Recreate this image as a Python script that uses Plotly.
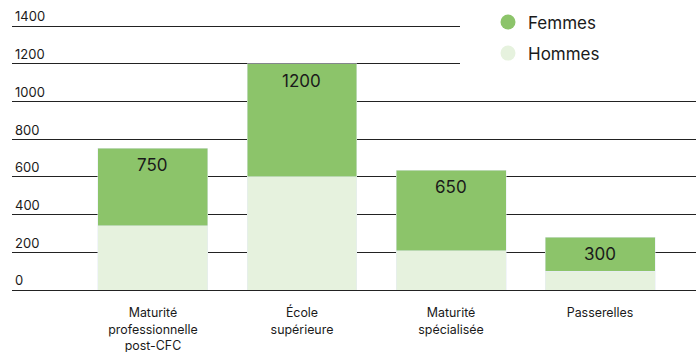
import plotly.graph_objects as go

categories = ["Maturité<br>professionnelle<br>post-CFC", "École<br>supérieure", "Maturité<br>spécialisée", "Passerelles"]
hommes = [340, 600, 208, 100]
femmes = [413, 600, 428, 181]
total_labels = ["750", "1200", "650", "300"]
y_ticks = [0, 200, 400, 600, 800, 1000, 1200, 1400]

c_f = "#8CC46A"
c_h = "#E6F2DE"
FONT = "Inter"
txt = "#1a1a1a"

fig = go.Figure()
fig.add_bar(x=categories, y=hommes, marker_color=c_h, width=0.738, showlegend=False, name="Hommes")
fig.add_bar(x=categories, y=femmes, marker_color=c_f, width=0.738, showlegend=False, name="Femmes")
fig.add_scatter(x=[None], y=[None], mode="markers", name="Femmes", legendgroup="f",
                marker=dict(symbol="circle", size=15, color=c_f))
fig.add_scatter(x=[None], y=[None], mode="markers", name="Hommes", legendgroup="h",
                marker=dict(symbol="circle", size=15, color=c_h))

for c, h, f, lab in zip(categories, hommes, femmes, total_labels):
    fig.add_annotation(x=c, y=h + f, text=lab, showarrow=False, yanchor="middle",
                       yshift=-17, font=dict(family=FONT, size=17, color=txt))

fig.add_shape(type="rect", xref="paper", yref="paper", x0=(460 - 12) / 684, x1=1.0,
              y0=(352 - 62 - 80 - 0) / 287, y1=1.0, fillcolor="white", line_width=0, layer="above")

fig.update_layout(
    width=696, height=352,
    margin=dict(l=12, r=0, t=3, b=62, autoexpand=False),
    barmode="stack",
    plot_bgcolor="white", paper_bgcolor="white",
    font=dict(family=FONT, size=12, color=txt),
    legend=dict(x=(488 - 12) / 684, xanchor="left", y=0.995, yanchor="top",
                bgcolor="rgba(0,0,0,0)", font=dict(family=FONT, size=17, color=txt),
                traceorder="grouped", tracegroupgap=6),
    xaxis=dict(range=[-0.946, 3.644], showgrid=False, zeroline=False, showline=False,
               ticks="", ticklabelstandoff=14, tickfont=dict(family=FONT, size=12.4, color=txt)),
    yaxis=dict(range=[0, 1522], tickvals=y_ticks, showgrid=True, gridcolor="#222222", gridwidth=1,
               zeroline=True, zerolinecolor="#222222", zerolinewidth=1,
               ticks="", ticklabelposition="inside top", showline=False,
               tickfont=dict(family=FONT, size=13, color=txt)),
)

fig.write_html("out.html")
